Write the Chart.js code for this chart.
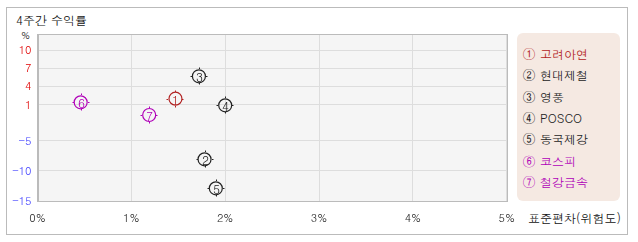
<!DOCTYPE html>
<html>
<head>
<meta charset="utf-8">
<script src="https://cdn.jsdelivr.net/npm/chart.js@4"></script>
<style>
  body { margin: 0; background: #fff; font-family: Dotum, "Noto Sans CJK KR", sans-serif; }
  #wrap { position: relative; width: 638px; height: 242px; overflow: hidden; }
  #frame { position: absolute; left: 6px; top: 7px; width: 620px; height: 226px; border: 1px solid #bbb; }
  #titulo { position: absolute; left: 16px; top: 11px; font-size: 12px; color: #111; }
  #pct { position: absolute; left: 21px; top: 28px; font-size: 10px; color: #222; }
  #eixoX { position: absolute; left: 528px; top: 209px; font-size: 12px; color: #111; }
  #legenda { position: absolute; left: 517px; top: 33px; width: 103px; height: 168px; background: #f5e9e2; border-radius: 6px; }
  #legenda div { position: absolute; left: 5px; font-size: 12px; line-height: 14px; white-space: nowrap; }
  #legenda span { font-size: 14px; }
  #c { position: absolute; left: 0; top: 0; }
</style>
</head>
<body>
<div id="wrap">
  <div id="frame"></div>
  <div id="titulo">4주간 수익률</div>
  <div id="pct">%</div>
  <div id="eixoX">표준편차(위험도)</div>
  <div id="legenda"></div>
  <canvas id="c" width="525" height="232"></canvas>
</div>
<script>
// nomes e cores
const nomes = ["고려아연", "현대제철", "영풍", "POSCO", "동국제강", "코스피", "철강금속"];
const marcas = ["①", "②", "③", "④", "⑤", "⑥", "⑦"];
const cores = ["#b22222", "#222222", "#222222", "#222222", "#222222", "#b000b8", "#b000b8"];

// desvio padrao (%) e retorno (%)
const risco = [1.47, 1.78, 1.72, 2.0, 1.9, 0.46, 1.19];
const retorno = [1.94, -8.1, 5.65, 0.84, -12.9, 1.34, -0.76];

const ticksY = [10, 7, 4, 1, -5, -10, -15];
const ticksX = [0, 1, 2, 3, 4, 5];

// legenda
const leg = document.getElementById("legenda");
nomes.forEach((n, i) => {
  const d = document.createElement("div");
  d.style.top = (13 + i * 21.3) + "px";
  d.style.color = cores[i];
  d.innerHTML = "<span>" + marcas[i] + "</span> " + n;
  leg.appendChild(d);
});

const fonte = "Dotum, 'Noto Sans CJK KR', sans-serif";

const fundo = {
  id: "fundo",
  beforeDraw(chart) {
    const a = chart.chartArea, ctx = chart.ctx;
    ctx.save();
    ctx.fillStyle = "#f5f5f5";
    ctx.fillRect(a.left, a.top, a.right - a.left, a.bottom - a.top);
    ctx.restore();
  },
  afterDraw(chart) {
    const a = chart.chartArea, ctx = chart.ctx;
    ctx.save();
    ctx.strokeStyle = "#bbb";
    ctx.lineWidth = 1;
    ctx.strokeRect(Math.round(a.left) + 0.5, Math.round(a.top) + 0.5, Math.round(a.right - a.left), Math.round(a.bottom - a.top));
    // numeros e marquinhas
    const meta = chart.getDatasetMeta(0);
    meta.data.forEach((p, i) => {
      const x = Math.round(p.x), y = Math.round(p.y);
      ctx.strokeStyle = cores[i];
      ctx.beginPath();
      ctx.moveTo(x + 0.5, y - 8.5); ctx.lineTo(x + 0.5, y - 7);
      ctx.moveTo(x + 0.5, y + 7); ctx.lineTo(x + 0.5, y + 8.5);
      ctx.moveTo(x - 8.5, y + 0.5); ctx.lineTo(x - 7, y + 0.5);
      ctx.moveTo(x + 7, y + 0.5); ctx.lineTo(x + 8.5, y + 0.5);
      ctx.stroke();
      ctx.fillStyle = cores[i];
      ctx.font = "12px " + fonte;
      ctx.textAlign = "center";
      ctx.textBaseline = "middle";
      ctx.fillText(String(i + 1), x + 0.5, y + 1);
    });
    ctx.restore();
  }
};

new Chart(document.getElementById("c"), {
  type: "scatter",
  data: {
    datasets: [{
      data: risco.map((x, i) => ({ x, y: retorno[i] })),
      pointStyle: "circle",
      pointRadius: 6.5,
      pointHoverRadius: 6.5,
      borderWidth: 1.2,
      pointBorderColor: cores,
      pointBackgroundColor: "rgba(0,0,0,0)"
    }]
  },
  options: {
    responsive: false,
    animation: false,
    events: [],
    layout: { padding: { top: 34, right: 16, left: 0, bottom: 0 } },
    plugins: { legend: { display: false }, tooltip: { enabled: false } },
    scales: {
      x: {
        type: "linear",
        min: 0,
        max: 5,
        afterBuildTicks: s => { s.ticks = ticksX.map(v => ({ value: v })); },
        afterFit: s => { s.height = 31; },
        grid: { color: "#ddd", drawTicks: false },
        border: { color: "#bbb" },
        ticks: {
          padding: 10,
          color: "#222",
          font: { family: fonte, size: 11 },
          callback: v => v + "%"
        }
      },
      y: {
        type: "linear",
        min: -15,
        max: 12.65,
        afterBuildTicks: s => { s.ticks = ticksY.map(v => ({ value: v })); },
        afterFit: s => { s.width = 37.5; },
        grid: { color: "#ddd", drawTicks: false },
        border: { color: "#bbb" },
        ticks: {
          padding: 6,
          font: { family: fonte, size: 11 },
          color: c => c.tick && c.tick.value > 0 ? "#e00000" : "#4040ff"
        }
      }
    }
  },
  plugins: [fundo]
});
</script>
</body>
</html>
